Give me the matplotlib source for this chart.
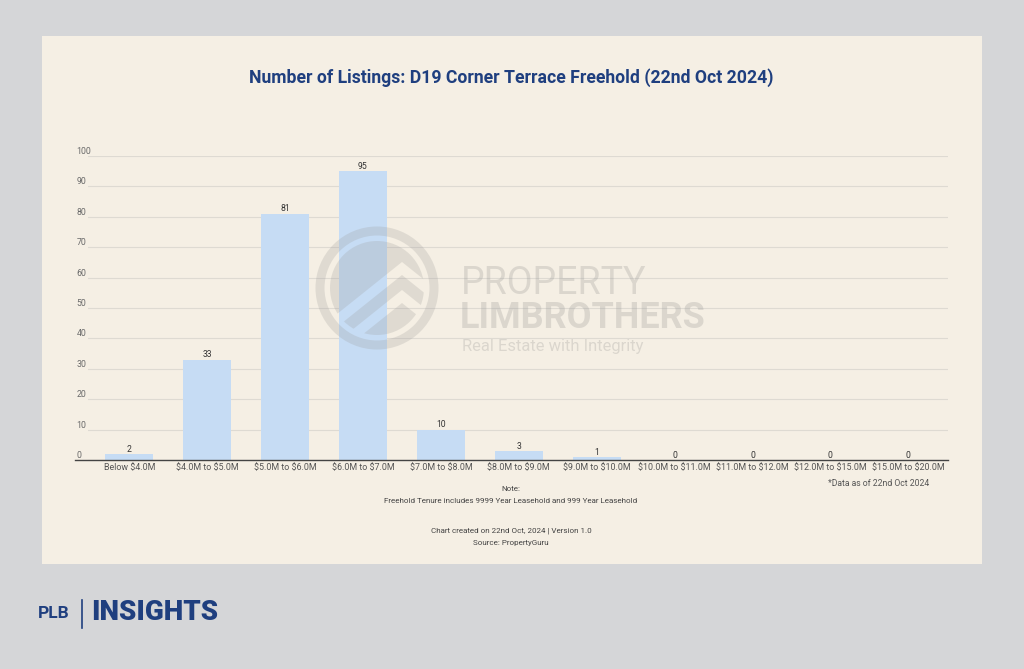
import matplotlib.pyplot as plt
from matplotlib.patches import Rectangle, Circle, Polygon
from matplotlib.lines import Line2D

categories = ["Below $4.0M", "$4.0M to $5.0M", "$5.0M to $6.0M", "$6.0M to $7.0M",
              "$7.0M to $8.0M", "$8.0M to $9.0M", "$9.0M to $10.0M", "$10.0M to $11.0M",
              "$11.0M to $12.0M", "$12.0M to $15.0M", "$15.0M to $20.0M"]
listings = [2, 33, 81, 95, 10, 3, 1, 0, 0, 0, 0]
yticks = [0, 10, 20, 30, 40, 50, 60, 70, 80, 90, 100]

W, H = 1024, 669
navy = "#1f3f7f"
bar_col = "#c6dcf4"
panel_col = "#f5efe4"

plt.rcParams['font.family'] = ['Roboto', 'DejaVu Sans']
fig = plt.figure(figsize=(W / 100, H / 100), dpi=100)
fig.patch.set_facecolor("#d5d6d8")

def fx(px):
    return px / W

def fy(py):
    return 1 - py / H

# cream panel
fig.patches.append(Rectangle((fx(42), fy(564)), fx(982) - fx(42), fy(36) - fy(564),
                             transform=fig.transFigure, facecolor=panel_col,
                             edgecolor="none", zorder=-1))

# chart axes
ax = fig.add_axes([fx(88), fy(460), fx(948) - fx(88), fy(156) - fy(460)])
ax.set_zorder(1)
ax.set_facecolor("none")
x = list(range(len(categories)))
ax.bar(x, listings, width=0.62, color=bar_col, zorder=2)
for xi, v in zip(x, listings):
    ax.text(xi, v + 1.6, str(v), ha="center", va="center", fontsize=6.2, color="#333333")

ax.set_xlim(-0.53, 10.51)
ax.set_ylim(0, 100)
ax.set_yticks(yticks)
ax.yaxis.grid(True, color="#dedad2", linewidth=0.8, zorder=0)
ax.set_axisbelow(True)
for s in ax.spines.values():
    s.set_visible(False)
ax.tick_params(axis="both", length=0)
ax.set_yticklabels([])
for t in yticks:
    ax.text(-0.68, t + 1.5, str(t), ha="left", va="center", fontsize=6.3,
            color="#6a6a6a", clip_on=False)
ax.set_xticks(x)
ax.set_xticklabels([c.replace("$", r"\$") for c in categories], fontsize=6.4,
                   color="#555555")
ax.tick_params(axis="x", pad=2)

# overlay in pixel coordinates (watermark + axis line)
wax = fig.add_axes([0, 0, 1, 1])
wax.set_zorder(3)
wax.set_xlim(0, W)
wax.set_ylim(H, 0)
wax.axis("off")
wax.patch.set_visible(False)
wax.add_line(Line2D([75, 948], [460, 460], color="#444444", linewidth=1.0))

wm = "#9c9b98"
wa = 0.24
cx, cy = 377, 288
ring = Circle((cx, cy), 57, fill=False, edgecolor=wm, linewidth=6.5, alpha=wa)
wax.add_patch(ring)
clip = Circle((cx, cy), 47, transform=wax.transData)
xs = list(range(320, 440, 2))

def chev(xv, off):
    return 268 + 0.8 * abs(xv - 402) + off

regions = [
    [(xv, chev(xv, -6)) for xv in xs] + [(440, 230), (320, 230)],
    [(xv, chev(xv, 7)) for xv in xs] + [(xv, chev(xv, 22)) for xv in reversed(xs)],
    [(xv, chev(xv, 35)) for xv in xs] + [(440, 345), (320, 345)],
]
for pts in regions:
    p = Polygon(pts, closed=True, facecolor=wm, edgecolor="none", alpha=wa)
    wax.add_patch(p)
    p.set_clip_path(clip)

wax.text(461, 284, "PROPERTY", fontsize=27, color=wm, alpha=wa + 0.05,
         va="center", ha="left", fontweight="normal")
wax.text(460, 318, "LIMBROTHERS", fontsize=26, color=wm, alpha=wa + 0.05,
         va="center", ha="left", fontweight="bold")
wax.text(462, 346, "Real Estate with Integrity", fontsize=11.9, color=wm,
         alpha=wa + 0.05, va="center", ha="left")

# title
fig.text(fx(511), fy(78), "Number of Listings: D19 Corner Terrace Freehold (22nd Oct 2024)",
         ha="center", va="center", fontsize=12.7, fontweight="bold", color=navy)

# notes
fig.text(fx(929), fy(484), "*Data as of 22nd Oct 2024", ha="right", va="center",
         fontsize=6.2, color="#555555")
fig.text(fx(511), fy(489), "Note:", ha="center", va="center", fontsize=5.8, color="#444444")
fig.text(fx(511), fy(501), "Freehold Tenure includes 9999 Year Leasehold and 999 Year Leasehold",
         ha="center", va="center", fontsize=5.8, color="#444444")
fig.text(fx(511), fy(531), "Chart created on 22nd Oct, 2024 | Version 1.0",
         ha="center", va="center", fontsize=5.8, color="#444444")
fig.text(fx(511), fy(543), "Source: PropertyGuru", ha="center", va="center",
         fontsize=5.8, color="#444444")

# footer brand
fig.text(fx(38), fy(613), "PLB", ha="left", va="center", fontsize=12.5,
         fontweight="bold", color=navy)
fig.lines.append(Line2D([fx(82), fx(82)], [fy(600), fy(628)], transform=fig.transFigure,
                        color=navy, linewidth=1.2))
fig.text(fx(91), fy(613), "INSIGHTS", ha="left", va="center", fontsize=20,
         fontweight="black", color=navy)

fig.savefig("out.png", dpi=100, facecolor=fig.get_facecolor())
